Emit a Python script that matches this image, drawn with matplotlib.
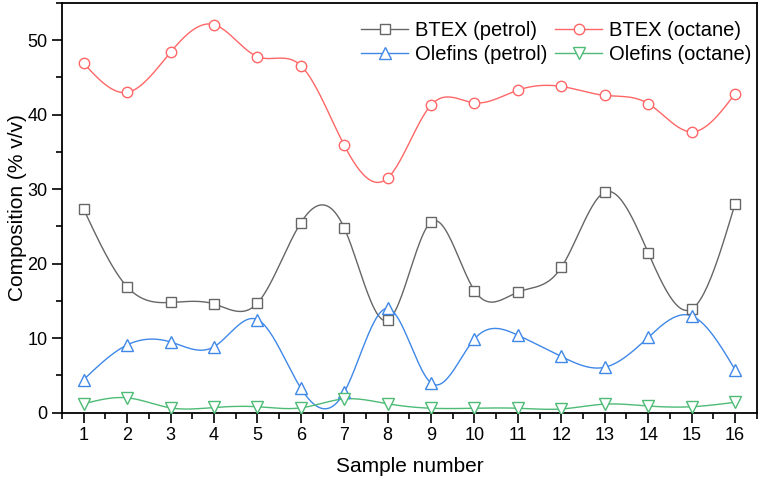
import numpy as np
import matplotlib
matplotlib.use("Agg")
import matplotlib.pyplot as plt
from matplotlib.ticker import MultipleLocator
from matplotlib.lines import Line2D

plt.rcParams['font.family'] = ['Liberation Sans', 'DejaVu Sans']

samples = list(range(1, 17))
btex_petrol = [27.3, 16.9, 14.8, 14.6, 14.7, 25.5, 24.8, 12.4, 25.6, 16.4, 16.2, 19.5, 29.6, 21.5, 13.9, 28.0]
btex_octane = [46.9, 43.0, 48.4, 52.1, 47.8, 46.6, 35.9, 31.5, 41.3, 41.6, 43.3, 43.8, 42.6, 41.5, 37.7, 42.8]
olefins_petrol = [4.45, 9.1, 9.5, 8.85, 12.5, 3.3, 2.75, 14.0, 4.0, 9.9, 10.4, 7.55, 6.1, 10.1, 13.0, 5.8]
olefins_octane = [1.2, 2.0, 0.65, 0.7, 0.8, 0.65, 1.85, 1.2, 0.6, 0.6, 0.6, 0.5, 1.15, 0.9, 0.8, 1.4]

labels = ["BTEX (petrol)", "BTEX (octane)", "Olefins (petrol)", "Olefins (octane)"]
colors = ["#666666", "#FF6666", "#3F88E8", "#4DBB75"]
markers = ["s", "o", "^", "v"]


def natural_spline(x, y, n=400):
    x = np.asarray(x, float)
    y = np.asarray(y, float)
    m = len(x)
    h = np.diff(x)
    A = np.zeros((m, m))
    r = np.zeros(m)
    A[0, 0] = 1
    A[-1, -1] = 1
    for i in range(1, m - 1):
        A[i, i - 1] = h[i - 1]
        A[i, i] = 2 * (h[i - 1] + h[i])
        A[i, i + 1] = h[i]
        r[i] = 6 * ((y[i + 1] - y[i]) / h[i] - (y[i] - y[i - 1]) / h[i - 1])
    M = np.linalg.solve(A, r)
    xs = np.linspace(x[0], x[-1], n)
    idx = np.clip(np.searchsorted(x, xs) - 1, 0, m - 2)
    x0, x1 = x[idx], x[idx + 1]
    hh = x1 - x0
    t0 = x1 - xs
    t1 = xs - x0
    ys = (M[idx] * t0 ** 3 / (6 * hh) + M[idx + 1] * t1 ** 3 / (6 * hh)
          + (y[idx] / hh - M[idx] * hh / 6) * t0
          + (y[idx + 1] / hh - M[idx + 1] * hh / 6) * t1)
    return xs, ys


fig = plt.figure(figsize=(7.62, 4.84), dpi=100)
ax = fig.add_axes([0.0814, 0.1473, 0.9116, 0.8465])

series = [btex_petrol, btex_octane, olefins_petrol, olefins_octane]
handles = []
for vals, lab, c, mk in zip(series, labels, colors, markers):
    xs, ys = natural_spline(samples, vals)
    ax.plot(xs, ys, color=c, lw=1.0, zorder=2)
    ms = 8.5 if mk in '^v' else 7.5
    ax.plot(samples, vals, linestyle='none', marker=mk, markersize=ms,
            markerfacecolor='white', markeredgecolor=c, markeredgewidth=1.0, zorder=3)
    handles.append(Line2D([], [], color=c, lw=1.0, marker=mk, markersize=ms,
                          markerfacecolor='white', markeredgecolor=c, markeredgewidth=1.0))

ax.set_xlim(0.5, 16.5)
ax.set_ylim(0, 55)
ax.xaxis.set_major_locator(MultipleLocator(1))
ax.xaxis.set_minor_locator(MultipleLocator(0.5))
ax.yaxis.set_major_locator(MultipleLocator(10))
ax.yaxis.set_minor_locator(MultipleLocator(5))
ax.tick_params(which='both', direction='out', width=1.2, colors='black', labelsize=13,
               top=False, right=False)
ax.tick_params(which='major', length=7)
ax.tick_params(which='minor', length=4)
for s in ax.spines.values():
    s.set_linewidth(1.3)

ax.set_xlabel("Sample number", fontsize=15, labelpad=9)
ax.set_ylabel("Composition (% v/v)", fontsize=15, labelpad=0)

order = [0, 2, 1, 3]
leg = ax.legend([handles[i] for i in order], [labels[i] for i in order], ncol=2,
                loc='upper right', bbox_to_anchor=(1.0 + 7 / 694, 1.0 - 6 / 410),
                frameon=False, fontsize=14.5, handlelength=2.35, handletextpad=0.35,
                columnspacing=0.35, labelspacing=0.25, borderaxespad=0.2)

fig.savefig("out.png", dpi=100)
